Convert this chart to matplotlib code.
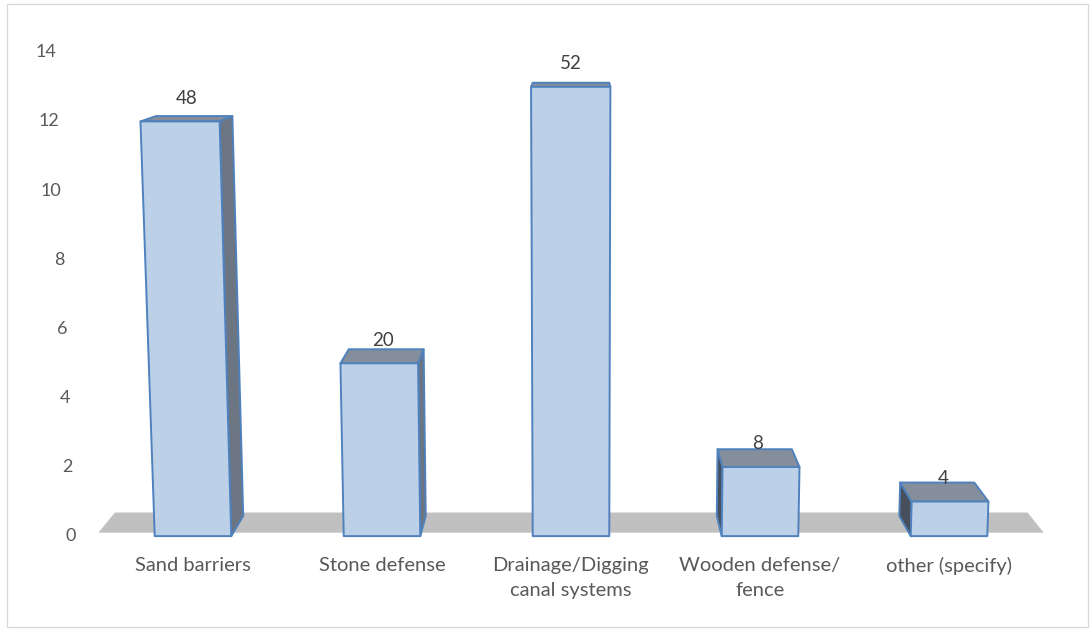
import matplotlib
matplotlib.use('Agg')
import matplotlib.pyplot as plt
from matplotlib.patches import Polygon, Rectangle

plt.rcParams['font.family'] = ['Lato', 'DejaVu Sans']

categories = ['Sand barriers', 'Stone defense', 'Drainage/Digging\ncanal systems',
              'Wooden defense/\nfence', 'other (specify)']
counts = [12, 5, 13, 2, 1]
respondents = 25
percents = [round(c / respondents * 100) for c in counts]
yticks = [0, 2, 4, 6, 8, 10, 12, 14]

# fake 3D: one-point perspective toward (VX, VY), plus slight keystone
K = 0.036
VX, VY = 2.04, 16.3
SKEW = 0.0028
HALF_W = 0.2025

FRONT = '#bcd0e8'
EDGE = '#4f81bd'
TOP = '#858e9b'
RIGHT_SIDE = '#6c7582'
LEFT_SIDE = '#474f5c'
FLOOR = '#c0c0c0'
TEXT = '#595959'


def proj(x, y, z=0.0):
    xb = x + z * K * (VX - x)
    yb = y + z * K * (VY - y)
    xb = xb + (xb - VX) * SKEW * yb
    return xb, yb


def face(ax, pts, color, edge=EDGE, lw=1.4):
    poly = Polygon([proj(*p) for p in pts], closed=True, facecolor=color,
                   edgecolor=edge, linewidth=lw, joinstyle='round', clip_on=False)
    ax.add_patch(poly)


fig = plt.figure(figsize=(10.92, 6.3), dpi=100)
ax = fig.add_axes([0, 0.149, 1, 0.768])
ax.set_xlim(-193 / 189, (1092 - 193) / 189)
ax.set_ylim(0, 14)

# floor
n = len(categories)
face(ax, [(-0.5, 0.1, 0), (n - 0.5, 0.1, 0), (n - 0.5, 0.1, 1), (-0.5, 0.1, 1)],
     FLOOR, edge='none', lw=0)

for i, (h, p) in enumerate(zip(counts, percents)):
    l, r = i - HALF_W, i + HALF_W
    if r < VX:
        face(ax, [(r, 0, 0), (r, 0, 1), (r, h, 1), (r, h, 0)], RIGHT_SIDE)
    if l > VX:
        face(ax, [(l, 0, 0), (l, 0, 1), (l, h, 1), (l, h, 0)], LEFT_SIDE)
    face(ax, [(l, h, 0), (r, h, 0), (r, h, 1), (l, h, 1)], TOP)
    face(ax, [(l, 0, 0), (r, 0, 0), (r, h, 0), (l, h, 0)], FRONT)
    lx, _ = proj(i, h, 0.5)
    ax.text(lx, h + 0.67, str(p), ha='center', va='center',
            fontsize=13.5, color='#404040')

# value axis labels follow the slanted back wall
for v in yticks:
    tx, ty = proj(-0.62, v, 0)
    ax.text(tx, ty, str(v), ha='right', va='center', fontsize=13, color=TEXT)

ax.set_yticks([])
ax.set_xticks(range(n))
ax.set_xticklabels(categories, fontsize=14.5, color=TEXT, linespacing=1.6)
ax.tick_params(axis='x', length=0, pad=15)
for s in ax.spines.values():
    s.set_visible(False)
ax.patch.set_alpha(0)

fig.patches.append(Rectangle((7 / 1092, 3 / 630), 1081 / 1092, 623 / 630,
                             transform=fig.transFigure, fill=False,
                             edgecolor='#d9d9d9', linewidth=1))

fig.savefig('out.png', dpi=100)
